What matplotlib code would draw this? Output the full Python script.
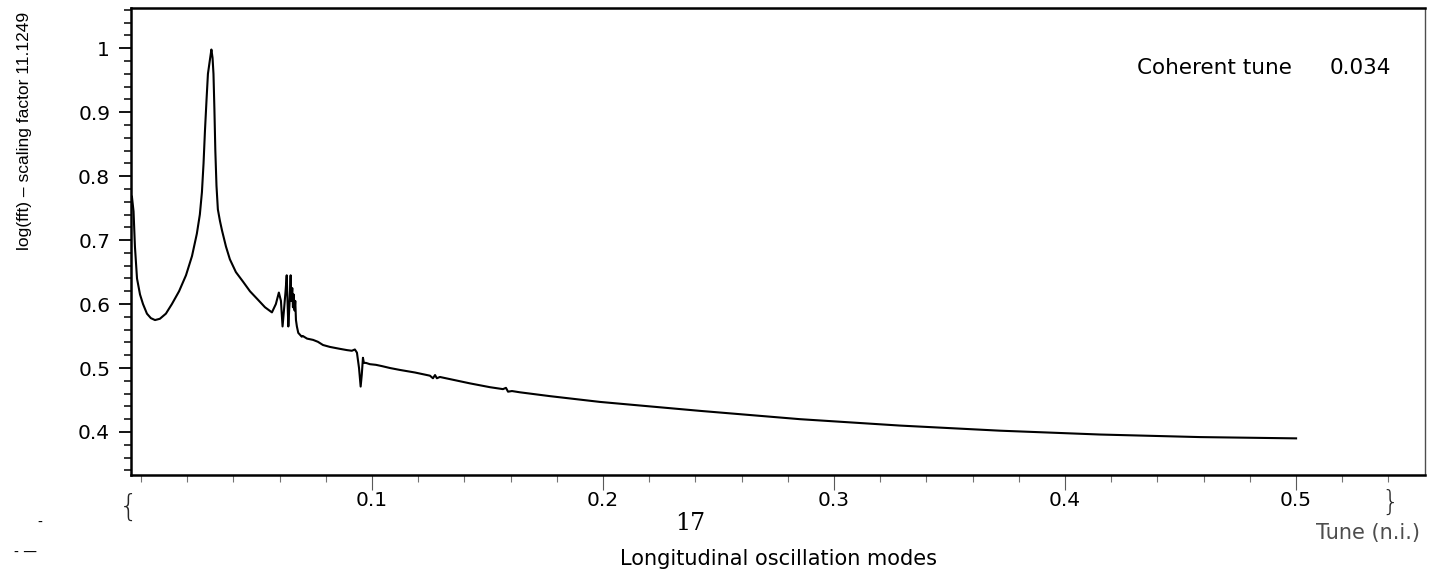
import matplotlib
matplotlib.use("Agg")
from matplotlib import pyplot as plt
from matplotlib.ticker import FixedLocator, MultipleLocator

# spectrum: tune (n.i.) vs log(fft) - scaling factor
tune = [-0.0039, -0.0032, -0.0026, -0.0017, -0.0004, 0.0009, 0.0026, 0.0043,
        0.0061, 0.0082, 0.0108, 0.0134, 0.0165, 0.0195, 0.0221, 0.0242,
        0.0255, 0.0264, 0.0271, 0.0277, 0.0284, 0.0290, 0.0297, 0.0301,
        0.0305, 0.0310, 0.0314, 0.0318, 0.0322, 0.0327, 0.0333, 0.0342,
        0.0351, 0.0368, 0.0385, 0.0411, 0.0442, 0.0472, 0.0506, 0.0537,
        0.0567, 0.0584, 0.0597, 0.0606, 0.0613, 0.0619, 0.0626, 0.0631,
        0.0634, 0.0638, 0.0643, 0.0648, 0.0651, 0.0655, 0.0658, 0.0661,
        0.0665, 0.0668, 0.0671, 0.0675, 0.0681, 0.0696, 0.0701, 0.0719,
        0.0745, 0.0766, 0.0788, 0.0818, 0.0861, 0.0892, 0.0913, 0.0926,
        0.0935, 0.0944, 0.0951, 0.0956, 0.0961, 0.0965, 0.0974, 0.0991,
        0.1017, 0.1043, 0.1078, 0.1121, 0.1186, 0.1251, 0.1264, 0.1273,
        0.1281, 0.1294, 0.1359, 0.1424, 0.1511, 0.1567, 0.1580, 0.1589,
        0.1606, 0.1641, 0.1771, 0.1987, 0.2203, 0.2420, 0.2853, 0.3286,
        0.3719, 0.4152, 0.4584, 0.5000]
amp = [0.768, 0.745, 0.690, 0.640, 0.615, 0.600, 0.585, 0.578,
       0.575, 0.577, 0.585, 0.600, 0.620, 0.645, 0.675, 0.710,
       0.740, 0.775, 0.820, 0.870, 0.920, 0.960, 0.978, 0.988,
       0.998, 0.985, 0.960, 0.905, 0.840, 0.785, 0.748, 0.730,
       0.715, 0.690, 0.670, 0.650, 0.635, 0.620, 0.607, 0.595,
       0.587, 0.600, 0.618, 0.605, 0.565, 0.590, 0.620, 0.645,
       0.610, 0.565, 0.600, 0.645, 0.605, 0.625, 0.595, 0.615,
       0.590, 0.605, 0.575, 0.565, 0.555, 0.549, 0.550, 0.546,
       0.544, 0.541, 0.536, 0.533, 0.530, 0.528, 0.527, 0.529,
       0.524, 0.500, 0.471, 0.490, 0.516, 0.508, 0.508, 0.506,
       0.505, 0.503, 0.500, 0.497, 0.493, 0.488, 0.484, 0.489,
       0.484, 0.486, 0.481, 0.476, 0.470, 0.467, 0.469, 0.463,
       0.464, 0.462, 0.456, 0.447, 0.440, 0.433, 0.420, 0.410,
       0.402, 0.396, 0.392, 0.390]

xticks = [0.1, 0.2, 0.3, 0.4, 0.5]
xticklabels = ["0.1", "0.2", "0.3", "0.4", "0.5"]
yticks = [0.4, 0.5, 0.6, 0.7, 0.8, 0.9, 1.0]
yticklabels = ["0.4", "0.5", "0.6", "0.7", "0.8", "0.9", "1"]

W, H = 1437, 581
fig = plt.figure(figsize=(W / 100, H / 100), dpi=100)
ax = fig.add_axes([131 / W, 1 - 474.5 / H, (1425 - 131) / W, (474.5 - 8.3) / H])

ax.plot(tune, amp, color="black", lw=1.5)

ax.set_xlim(-0.0043, 0.5558)
ax.set_ylim(0.3335, 1.0625)

ax.xaxis.set_major_locator(FixedLocator(xticks))
ax.set_xticklabels(xticklabels)
ax.xaxis.set_minor_locator(MultipleLocator(0.02))
ax.yaxis.set_major_locator(FixedLocator(yticks))
ax.set_yticklabels(yticklabels)
ax.yaxis.set_minor_locator(MultipleLocator(0.02))

ax.tick_params(axis="y", which="major", direction="out", length=9, width=1.3,
               pad=6, labelsize=14.5)
ax.tick_params(axis="y", which="minor", direction="out", length=5, width=1.1)
ax.tick_params(axis="x", which="major", direction="out", length=11, width=0.8,
               pad=1, labelsize=14.5, color="0.35")
ax.tick_params(axis="x", which="minor", direction="out", length=5, width=0.8,
               color="0.45")

for side in ["left", "bottom", "top"]:
    ax.spines[side].set_linewidth(1.8)
ax.spines["right"].set_linewidth(1.0)
ax.spines["right"].set_color("0.3")

fig.text(1137 / W, 1 - 68 / H, "Coherent tune", ha="left", va="center",
         fontsize=15.5)
fig.text(1330 / W, 1 - 68 / H, "0.034", ha="left", va="center",
         fontsize=15.5)

fig.text(25 / W, 1 - 131 / H, "log(fft) \u2013 scaling factor 11.1249",
         rotation=90, ha="center", va="center", fontsize=12.5,
         family="Liberation Sans")
fig.text(778 / W, 1 - 559 / H, "Longitudinal oscillation modes",
         ha="center", va="center", fontsize=15)
fig.text(1368 / W, 1 - 533 / H, "Tune (n.i.)", ha="center", va="center",
         fontsize=15, color="0.3")
fig.text(690 / W, 1 - 523 / H, "17", ha="center", va="center", fontsize=17,
         family="DejaVu Serif")
fig.text(129 / W, 1 - 507 / H, "{", ha="center", va="center", fontsize=22,
         fontweight="light", color="0.15")
fig.text(1390 / W, 1 - 503 / H, "}", ha="center", va="center", fontsize=20,
         fontweight="light", color="0.15")
fig.text(40 / W, 1 - 523 / H, "-", ha="center", va="center", fontsize=10)
fig.text(26 / W, 1 - 552 / H, "- \u2014", ha="center", va="center", fontsize=10)

fig.savefig("out.png", dpi=100)
